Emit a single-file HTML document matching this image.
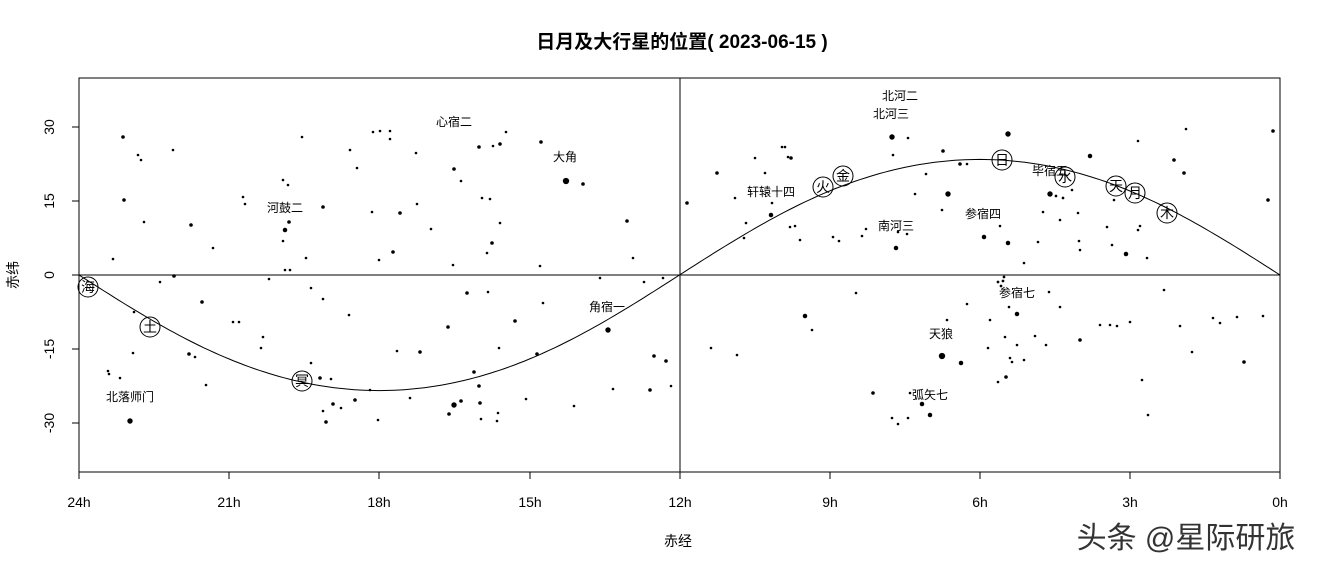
<!DOCTYPE html>
<html><head><meta charset="utf-8"><style>
body{margin:0;background:#fff;width:1322px;height:571px;overflow:hidden}
text{font-family:"Liberation Sans","Noto Sans CJK SC",sans-serif}
</style></head><body>
<svg id="s" width="1322" height="571" xmlns="http://www.w3.org/2000/svg">
<text x="682" y="48" text-anchor="middle" font-size="19" font-weight="bold">日月及大行星的位置( 2023-06-15 )</text>
<rect x="79" y="78" width="1201" height="394" fill="none" stroke="#000" stroke-width="1"/>
<line x1="79" y1="275" x2="1280" y2="275" stroke="#000"/>
<line x1="680" y1="78" x2="680" y2="472" stroke="#000"/>
<g stroke="#000">
<line x1="79" y1="472" x2="79" y2="479"/><line x1="229" y1="472" x2="229" y2="479"/><line x1="379" y1="472" x2="379" y2="479"/><line x1="530" y1="472" x2="530" y2="479"/><line x1="680" y1="472" x2="680" y2="479"/><line x1="830" y1="472" x2="830" y2="479"/><line x1="980" y1="472" x2="980" y2="479"/><line x1="1130" y1="472" x2="1130" y2="479"/><line x1="1280" y1="472" x2="1280" y2="479"/>
<line x1="72" y1="127" x2="79" y2="127"/><line x1="72" y1="201" x2="79" y2="201"/><line x1="72" y1="275" x2="79" y2="275"/><line x1="72" y1="349" x2="79" y2="349"/><line x1="72" y1="423" x2="79" y2="423"/>
</g>
<g font-size="14" text-anchor="middle">
<text x="79" y="507">24h</text><text x="229" y="507">21h</text><text x="379" y="507">18h</text><text x="530" y="507">15h</text><text x="680" y="507">12h</text><text x="830" y="507">9h</text><text x="980" y="507">6h</text><text x="1130" y="507">3h</text><text x="1280" y="507">0h</text>
</g>
<g font-size="14" text-anchor="middle">
<text transform="translate(54,127) rotate(-90)">30</text><text transform="translate(54,201) rotate(-90)">15</text><text transform="translate(54,275) rotate(-90)">0</text><text transform="translate(54,349) rotate(-90)">-15</text><text transform="translate(54,423) rotate(-90)">-30</text>
</g>
<text transform="translate(18,275) rotate(-90)" font-size="14" text-anchor="middle">赤纬</text>
<text x="678" y="546" font-size="14" text-anchor="middle">赤经</text>
<path id="ecl" fill="none" stroke="#000" stroke-width="1"/>
<g id="stars" fill="#000"></g>
<g font-size="12" text-anchor="middle">
<text x="900" y="100">北河二</text><text x="891" y="118">北河三</text><text x="454" y="126">心宿二</text><text x="565" y="161">大角</text><text x="285" y="212">河鼓二</text><text x="771" y="196">轩辕十四</text><text x="896" y="230">南河三</text><text x="983" y="218">参宿四</text><text x="1050" y="175">毕宿五</text><text x="1017" y="297">参宿七</text><text x="941" y="338">天狼</text><text x="930" y="399">弧矢七</text><text x="607" y="311">角宿一</text><text x="130" y="401">北落师门</text>
</g>
<g id="pl" font-size="14" text-anchor="middle"></g>
<text x="1186" y="548" font-size="30" text-anchor="middle" fill="#333">头条 @星际研旅</text>
</svg>
<script>
var NS="http://www.w3.org/2000/svg";
var d="",e=23.44*Math.PI/180;
for(var i=0;i<=240;i++){var h=i/10;var a=h*15*Math.PI/180;var dec=Math.atan(Math.tan(e)*Math.sin(a))*180/Math.PI;var x=1280-h*50.04,y=275-dec*4.93;d+=(i?"L":"M")+x.toFixed(1)+" "+y.toFixed(1);}
document.getElementById("ecl").setAttribute("d",d);
var S=[[479,147,2],[500,144,2],[541,142,2],[566,181,3.5],[583,184,2],[454,169,2],[400,213,2],[627,221,2],[492,243,2],[393,252,2],[467,293,2],[515,321,2],[448,327,2],[608,330,3],[420,352,2],[654,356,2],[666,361,2],[537,354,2],[474,372,2],[479,386,2],[454,405,3],[461,401,2],[480,403,2],[449,414,2],[650,390,2],
[390,139,1],[416,153,1],[506,132,1],[493,146,1],[461,181,1],[482,198,1],[490,199,1],[417,204,1],[431,229,1],[500,223,1],[487,253,1],[453,265,1],[540,266,1],[633,258,1],[600,278,1],[644,282,1],[663,278,1],[488,292,1],[543,303,1],[397,351,1],[499,348,1],[410,398,1],[526,399,1],[574,406,1],[613,389,1],[671,386,1],[481,419,1],[497,421,1],[498,413,1],
[892,137,3],[908,138,1],[1008,134,3],[943,151,2],[1090,156,2.5],[1174,160,2],[1184,173,2],[1138,141,1],[1186,129,1],[791,158,2],[785,147,1],[893,155,1],[960,164,2],[967,164,1],[926,174,1],[915,194,1],[948,194,3],[1050,194,3],[1056,196,1.5],[1063,198,1.5],[942,210,1],[1078,213,1],[1107,227,1],[1000,226,1],[795,226,1],[866,229,1],
[202,302,2],[160,282,1],[174,276,2],[269,279,1],[285,270,1],[134,312,1],[239,322,1],[263,337,1],[261,348,1],[323,299,1],[349,315,1],[189,354,2],[195,357,1],[133,353,1],[311,363,1],[109,374,1],[120,378,1],[206,385,1],[320,378,2],[331,379,1],[333,404,2],[341,408,1],[355,400,2],[323,411,1],[326,422,2],[130,421,3],
[123,137,2],[124,200,2],[113,259,1],[138,155,1],[141,160,1],[144,222,1],[173,150,1],[191,225,2],[213,248,1],[243,197,1],[245,204,1],[283,180,1],[288,185,1],[285,230,2.5],[289,222,2],[283,241,1],[290,270,1],[302,137,1],[323,207,2],[306,258,1],[357,168,1],[373,132,1],[380,131,1],[390,131,1],[379,260,1],[372,212,1],[350,150,1],[311,288,1],[108,371,1],[233,322,1],[378,420,1],[370,390,1],
[687,203,2],[717,173,2],[735,198,1],[746,223,1],[755,158,1],[737,355,1],[711,348,1],[744,238,1],[765,173,1],[772,203,1],[771,215,2.5],[782,147,1],[788,157,1],[790,227,1],[800,240,1],[805,316,2.5],[812,330,1],[833,237,1],[839,241,1],[856,293,1],[862,236,1],[873,393,2],[896,248,2.5],[898,232,1],[907,234,1],[910,393,1],[892,418,1],[898,424,1],[908,418,1],[922,404,2.5],[930,415,2.5],[942,356,3.5],[961,363,2.5],[947,320,1],[967,304,1],[984,237,2.5],[1008,243,2.5],[990,320,1],[998,282,1.5],[1001,286,1.5],[1003,281,1.5],[1004,277,1.5],[1009,307,1],[1017,314,2.5],[1005,337,1],[1010,358,1],[988,348,1],[998,382,1],[1006,377,2],[1012,362,1],[1017,345,1],[1024,360,1],[1049,292,1],[1046,345,1],[1060,220,1],[1072,190,1],[1080,250,1],[1079,241,1],[1112,245,1],[1126,254,2.5],[1110,325,1],[1117,326,1],[1130,322,1],[1140,226,1],[1138,230,1],[1147,258,1],[1142,380,1],[1148,415,1],[1164,290,1],[1180,326,1],[1192,352,1],[1213,318,1],[1220,323,1],[1237,317,1],[1244,362,2],[1268,200,2],[1273,131,2],[1263,316,1],[1080,340,2],[1100,325,1],[1060,307,1],[1035,336,1],[1024,263,1],[1038,242,1],[1043,212,1],[1114,200,1]];
var g=document.getElementById("stars");
S.forEach(function(p){var c=document.createElementNS(NS,"circle");c.setAttribute("cx",p[0]);c.setAttribute("cy",p[1]);c.setAttribute("r",p[2]<=1?1.3:p[2]*0.9);g.appendChild(c);});
var P=[["海",88,287],["土",150,327],["冥",302,381],["火",823,187],["金",843,176],["日",1002,160],["水",1065,177],["天",1116,186],["月",1135,193],["木",1167,213]];
var pg=document.getElementById("pl");
P.forEach(function(p){var c=document.createElementNS(NS,"circle");c.setAttribute("cx",p[1]);c.setAttribute("cy",p[2]);c.setAttribute("r",10);c.setAttribute("fill","none");c.setAttribute("stroke","#000");pg.appendChild(c);var t=document.createElementNS(NS,"text");t.setAttribute("x",p[1]);t.setAttribute("y",p[2]+5);t.textContent=p[0];pg.appendChild(t);});
</script>
</body></html>
